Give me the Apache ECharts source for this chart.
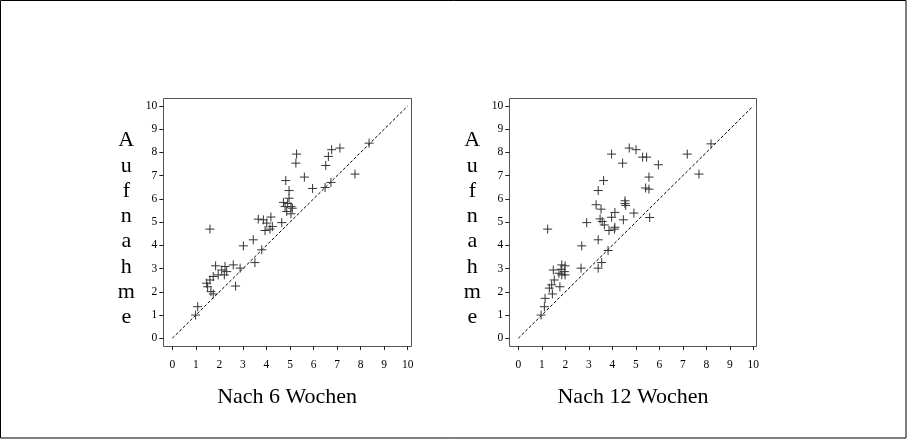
<!DOCTYPE html>
<html>
<head>
<meta charset="utf-8">
<script src="https://cdn.jsdelivr.net/npm/echarts@6/dist/echarts.min.js"></script>
<style>
html,body{margin:0;padding:0;background:#fff;}
#chart{width:907px;height:439px;}
</style>
</head>
<body>
<div id="chart"></div>
<script>
// ---- data ----
const week6X = [5.28,5.25,6.77,7.12,6.63,6.52,8.36,7.76,5.61,4.82,5.96,6.49,6.74,4.96,4.96,4.72,4.79,5.04,4.86,5.04,4.90,5.10,3.65,3.87,4.19,4.01,4.25,3.94,4.15,4.65,1.60,3.44,3.02,3.80,3.51,2.88,1.84,2.24,2.59,2.10,2.31,1.95,2.21,1.74,1.60,1.46,1.50,1.64,1.74,2.69,1.08,0.99];
const week6Y = [7.93,7.54,8.12,8.19,7.83,7.44,8.40,7.07,6.94,6.79,6.45,6.49,6.71,6.36,6.03,5.85,5.67,5.67,5.46,5.36,5.80,5.60,5.13,5.10,5.22,4.96,4.81,4.64,4.70,4.98,4.70,4.24,3.98,3.81,3.26,3.02,3.12,3.09,3.16,2.94,2.87,2.73,2.73,2.66,2.51,2.37,2.22,2.01,1.91,2.25,1.36,1.00];
const week12X = [4.72,5.01,3.97,5.29,5.46,7.19,8.20,4.44,5.96,7.69,5.56,3.63,5.42,5.56,3.40,4.54,4.57,4.54,3.31,3.52,4.11,4.92,5.59,2.91,3.48,3.57,3.97,4.47,3.66,4.11,3.86,4.09,1.25,3.40,2.70,3.82,3.55,3.40,2.67,1.85,1.99,1.82,1.96,1.85,1.99,1.49,1.73,1.53,1.77,1.42,1.32,1.45,1.14,1.11,0.97];
const week12Y = [8.19,8.12,7.93,7.80,7.80,7.93,8.37,7.54,7.47,7.07,6.94,6.79,6.47,6.42,6.36,5.92,5.72,5.80,5.75,5.56,5.42,5.39,5.20,4.98,5.14,5.03,5.21,5.10,4.88,4.78,4.64,4.70,4.70,4.24,3.98,3.78,3.26,3.02,3.02,3.16,3.12,2.97,2.87,2.73,2.73,2.94,2.80,2.51,2.22,2.30,2.16,1.91,1.72,1.36,1.00];
const diagonal = [[0,0],[10,10]];
const xTitles = ['Nach 6 Wochen','Nach 12 Wochen'];
const yTitle = 'Aufnahme';
const axisMin = 0, axisMax = 10, axisStep = 1;

// ---- layout ----
const FONT = "'Liberation Serif','Times New Roman',serif";
const grids = [
  {left:172.3, top:106, width:235.4, height:232.3},
  {left:518.3, top:106, width:235.0, height:232.3}
];
const frameX = 9, frameB = 7.7, frameT = 7.7, frameR = 3.3;

const chart = echarts.init(document.getElementById('chart'), null, {renderer:'canvas'});

function zip(xs, ys){ return xs.map((v,i)=>[v, ys[i]]); }
const plus = 'path://M0,5L10,5M5,0L5,10';

const xAxes = [], yAxes = [], series = [], graphic = [];
grids.forEach((g, i) => {
  xAxes.push({
    gridIndex:i, type:'value', min:axisMin, max:axisMax, interval:axisStep,
    position:'bottom', offset:frameB, axisLine:{show:false, onZero:false},
    axisTick:{show:true, length:4, lineStyle:{color:'#222', width:1}},
    axisLabel:{color:'#000', fontFamily:FONT, fontSize:11.5, margin:13},
    splitLine:{show:false}
  });
  yAxes.push({
    gridIndex:i, type:'value', min:axisMin, max:axisMax, interval:axisStep,
    position:'left', offset:frameX, axisLine:{show:false, onZero:false},
    axisTick:{show:true, length:4, lineStyle:{color:'#222', width:1}},
    axisLabel:{color:'#000', fontFamily:FONT, fontSize:11.5, margin:6},
    splitLine:{show:false}
  });
  series.push({
    type:'line', xAxisIndex:i, yAxisIndex:i, data:diagonal, symbol:'none',
    lineStyle:{color:'#000', width:1, type:[3,2]}, silent:true, z:1
  });
  series.push({
    type:'scatter', xAxisIndex:i, yAxisIndex:i,
    data: i===0 ? zip(week6X, week6Y) : zip(week12X, week12Y),
    symbol:plus, symbolSize:9,
    itemStyle:{color:'rgba(0,0,0,0)', borderColor:'#333', borderWidth:1, opacity:1},
    z:3
  });
  const fx = g.left - frameX, fy = g.top - frameT;
  graphic.push({
    type:'rect', silent:true, z:0,
    shape:{x:Math.round(fx)+0.5, y:Math.round(fy)+0.5,
           width:Math.round(g.width + frameX + frameR), height:Math.round(g.height + frameT + frameB)},
    style:{fill:'none', stroke:'#555', lineWidth:1}
  });
  graphic.push({
    type:'text', silent:true,
    x: fx + (g.width + frameX + frameR)/2, y: 397,
    style:{text:xTitles[i], font:'22px ' + FONT, fill:'#000', align:'center', verticalAlign:'middle'}
  });
  graphic.push({
    type:'text', silent:true,
    x: fx - 37, y: 229,
    style:{text:yTitle.split('').join('\n'), font:'22px ' + FONT, fill:'#000',
           align:'center', verticalAlign:'middle', lineHeight:25.3}
  });
});
graphic.push({
  type:'rect', silent:true,
  shape:{x:0.5, y:0.5, width:905.5, height:437.5},
  style:{fill:'none', stroke:'#000', lineWidth:1}
});

chart.setOption({
  animation:false,
  backgroundColor:'#fff',
  grid: grids.map(g => ({left:g.left, top:g.top, width:g.width, height:g.height, containLabel:false})),
  xAxis:xAxes, yAxis:yAxes, series:series, graphic:graphic
});
</script>
</body>
</html>
